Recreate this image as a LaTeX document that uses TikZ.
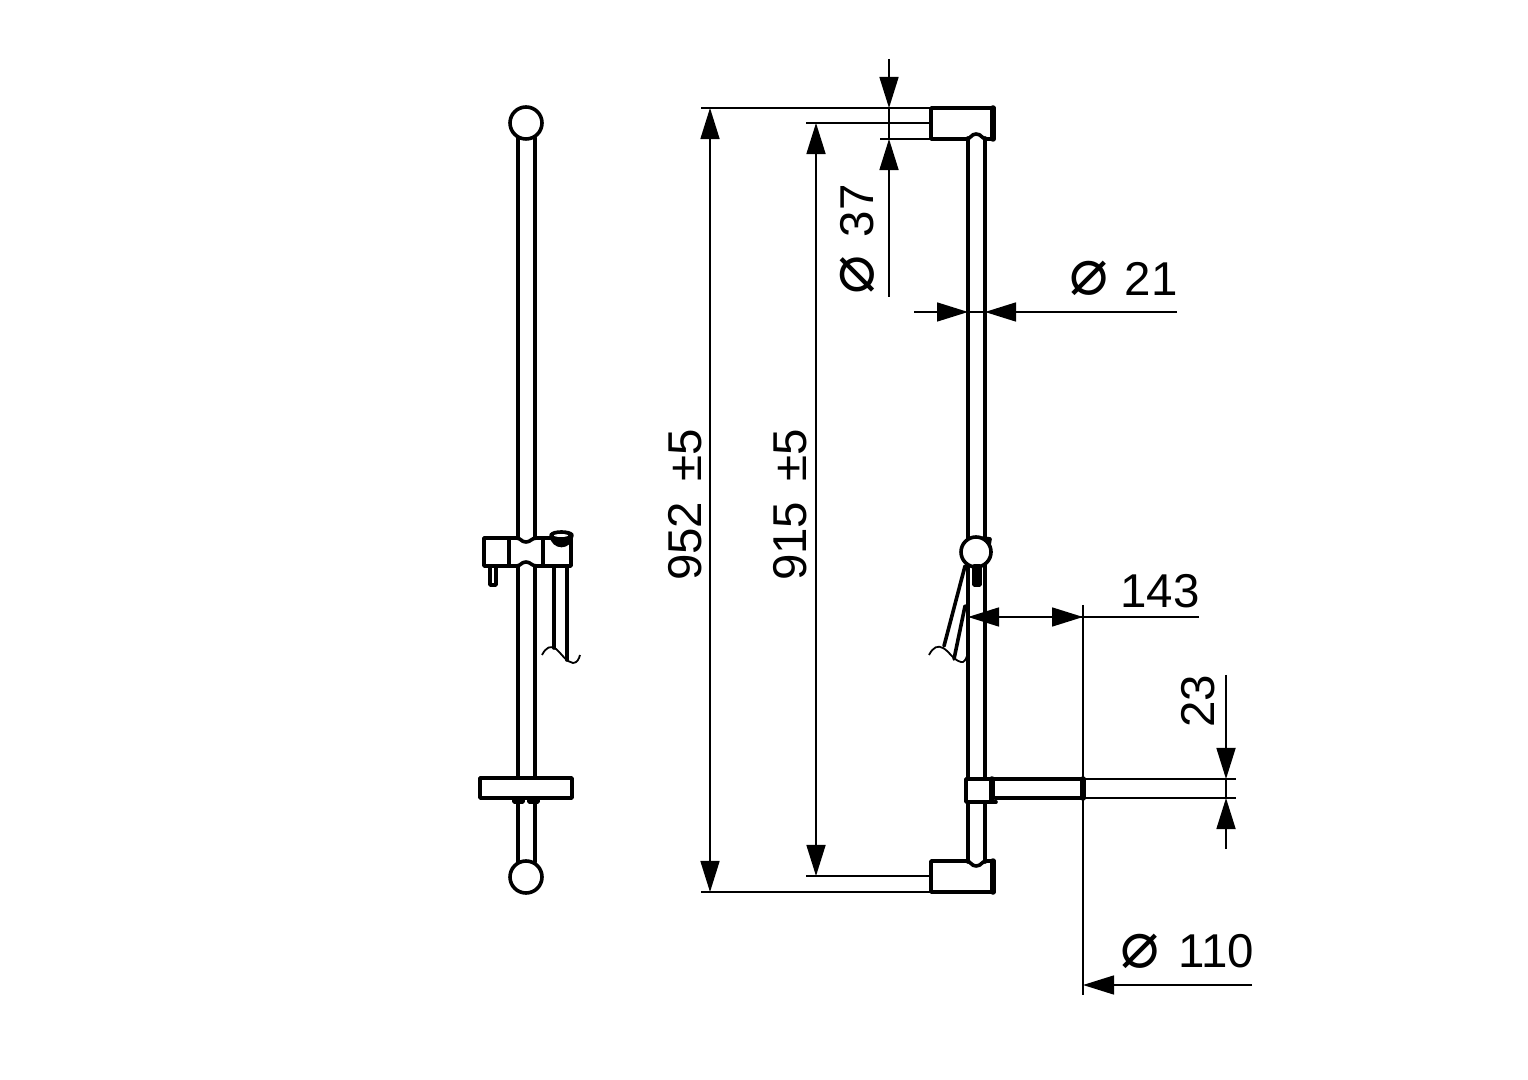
\documentclass[tikz,border=0pt]{standalone}
\usepackage{fontspec}
\setmainfont{Liberation Sans}
\newfontfamily\diafont{DejaVu Sans}
\usetikzlibrary{arrows.meta}
\tikzset{
    part/.style={line width=0.36mm, line join=round, line cap=round},
    heavy/.style={line width=0.55mm, line cap=round},
    wire/.style={line width=0.18mm},
    dimline/.style={line width=0.16mm},
    dimarrow/.style={dimline, -{Triangle[length=3.1mm, width=1.9mm]}},
    dimtext/.style={font=\fontsize{13.5pt}{13.5pt}\selectfont, inner sep=0pt},
    diatext/.style={font=\diafont\fontsize{18.5pt}{18.5pt}\selectfont, inner sep=0pt},
}

\begin{document}
\begin{tikzpicture}[x=0.01cm, y=-0.01cm]
    \useasboundingbox (0, 0) rectangle (1528, 1080);
    % front view
    \draw[part] (526, 123) circle[radius=16];
    \draw[part] (526, 877) circle[radius=16];
    \draw[part] (518, 138) -- (518, 538);
    \draw[part] (535, 138) -- (535, 538);
    \draw[part] (518, 566) -- (518, 778);
    \draw[part] (535, 566) -- (535, 778);
    \draw[part] (518, 803) -- (518, 862);
    \draw[part] (535, 803) -- (535, 862);
    % slider
    \draw[part] (509, 538) -- (484, 538) -- (484, 566) -- (509, 566);
    \draw[part] (509, 538) -- (516, 538) .. controls (521, 538) and (521, 542) .. (526, 542) .. controls (531, 542) and (531, 538) .. (537, 538) -- (571, 538) -- (571, 566) -- (537, 566) .. controls (531, 566) and (531, 562) .. (526, 562) .. controls (521, 562) and (521, 566) .. (516, 566) -- (509, 566) -- cycle;
    \draw[part] (543, 538) -- (543, 566);
    \draw[part] (490, 566) -- (490, 585) -- (496, 585) -- (496, 566);
    \draw[part, fill=black] (551, 535) .. controls (553, 549) and (570, 549) .. (572, 535) .. controls (570, 531) and (553, 531) .. (551, 535) -- cycle;
    \fill[white] (561, 535.5) ellipse[x radius=7, y radius=1.5];
    \draw[part] (554, 566) -- (554, 648);
    \draw[part] (567, 566) -- (567, 660);
    \draw[wire] (542, 655) .. controls (546, 647) and (551, 645) .. (556, 649) .. controls (562, 654) and (566, 662) .. (573, 663) .. controls (577, 663) and (579, 659) .. (580, 655);
    % soap dish
    \draw[part] (480, 778) rectangle (572, 798);
    \draw[part, fill=black] (514, 798) rectangle (523, 802);
    \draw[part, fill=black] (529, 798) rectangle (538, 802);
    % side view
    \draw[part] (931, 108) -- (994, 108) -- (994, 139) -- (987, 139) .. controls (981, 139) and (982, 134) .. (976, 134) .. controls (971, 134) and (971, 139) .. (966, 139) -- (931, 139) -- cycle;
    \draw[heavy] (993, 108) -- (993, 139);
    \draw[part] (968, 138) -- (968, 779);
    \draw[part] (985, 138) -- (985, 779);
    \draw[part] (968, 802) -- (968, 862);
    \draw[part] (985, 802) -- (985, 862);
    \draw[part] (931, 861) -- (966, 861) .. controls (971, 861) and (971, 866) .. (976, 866) .. controls (982, 866) and (981, 861) .. (987, 861) -- (994, 861) -- (994, 892) -- (931, 892) -- cycle;
    \draw[heavy] (993, 861) -- (993, 892);
    % slider, side
    \draw[part, fill=black] (983, 538) -- (990, 539) -- (989, 545) -- cycle;
    \draw[part, fill=white] (976, 552) circle[radius=15];
    \draw[part, fill=black] (974, 566) rectangle (980, 585);
    \draw[part] (965, 566) -- (944, 646);
    \draw[part] (965, 606) -- (954, 659);
    \draw[wire] (929, 655) .. controls (933, 647) and (938, 645) .. (943, 648) .. controls (949, 651) and (953, 660) .. (961, 662) .. controls (964, 663) and (966, 659) .. (967, 656);
    % shelf, side
    \draw[part] (966, 779) rectangle (991, 802);
    \draw[part] (991, 779) -- (1083, 779) -- (1083, 798) -- (995, 798);
    \draw[part] (991, 802) -- (996, 802);
    \draw[heavy] (992, 779) -- (992, 798);
    \draw[heavy] (1083, 779) -- (1083, 798);
    % 952 and 915
    \draw[dimline] (701, 108) -- (931, 108);
    \draw[dimline] (701, 892) -- (931, 892);
    \draw[dimline] (806, 123) -- (931, 123);
    \draw[dimline] (806, 876) -- (931, 876);
    \draw[dimarrow] (710, 160) -- (710, 108);
    \draw[dimarrow] (710, 840) -- (710, 892);
    \draw[dimline] (710, 160) -- (710, 840);
    \draw[dimarrow] (816, 175) -- (816, 123);
    \draw[dimarrow] (816, 824) -- (816, 876);
    \draw[dimline] (816, 175) -- (816, 824);
    \node[dimtext, rotate=90] (lenouter) at (685, 505) {952\hspace{0.42em}±5};
    \node[dimtext, rotate=90] (leninner) at (790, 505) {915\hspace{0.42em}±5};
    % 37
    \draw[dimline] (880, 139) -- (931, 139);
    \draw[dimline] (889, 108) -- (889, 139);
    \draw[dimarrow] (889, 59) -- (889, 108);
    \draw[dimarrow] (889, 297) -- (889, 139);
    \node[diatext, rotate=90] (diabracketsym) at (857, 275) {⌀};
    \node[dimtext, rotate=90] (diabracket) at (857, 211) {37};
    % 21
    \draw[dimline] (968, 312) -- (985, 312);
    \draw[dimarrow] (914, 312) -- (968, 312);
    \draw[dimarrow] (1177, 312) -- (985, 312);
    \node[diatext] (diabarsym) at (1089, 278) {⌀};
    \node[dimtext] (diabar) at (1151, 279) {21};
    % 143
    \draw[dimarrow] (1199, 617) -- (968, 617);
    \draw[dimarrow] (1000, 617) -- (1083, 617);
    \draw[dimline] (1083, 605) -- (1083, 995);
    \node[dimtext] (reach) at (1160, 591) {143};
    % 23
    \draw[dimline] (1083, 779) -- (1236, 779);
    \draw[dimline] (1083, 798) -- (1236, 798);
    \draw[dimline] (1226, 779) -- (1226, 798);
    \draw[dimarrow] (1226, 675) -- (1226, 779);
    \draw[dimarrow] (1226, 849) -- (1226, 798);
    \node[dimtext, rotate=90] (shelfh) at (1198, 701) {23};
    % 110
    \draw[dimarrow] (1252, 985) -- (1083, 985);
    \node[diatext] (diashelfsym) at (1140, 951) {⌀};
    \node[dimtext] (diashelf) at (1216, 951) {110};
\end{tikzpicture}
\end{document}
